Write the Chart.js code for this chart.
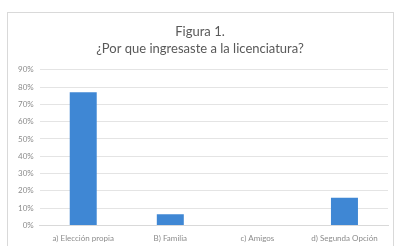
<!DOCTYPE html>
<html>
<head>
<meta charset="utf-8">
<script src="https://cdn.jsdelivr.net/npm/chart.js@4/dist/chart.umd.min.js"></script>
<style>
  html, body { margin: 0; padding: 0; background: #fff; }
  #frame {
    position: absolute; left: 7px; top: 12px; width: 387px; height: 240px;
    border: 1px solid #d9d9d9; box-sizing: border-box;
  }
  #wrap { position: absolute; left: 0; top: 0; width: 385px; height: 238px; }
</style>
</head>
<body>
<div id="frame"><div id="wrap"><canvas id="chart"></canvas></div></div>
<script>
const categories = ["a) Elección propia", "B) Familia", "c) Amigos", "d) Segunda Opción"];
const values = [0.77, 0.065, 0, 0.16];
const titleLines = ["Figura 1.", "¿Por que ingresaste a la licenciatura?"];

const ctx = document.getElementById("chart").getContext("2d");
new Chart(ctx, {
  type: "bar",
  data: {
    labels: categories,
    datasets: [{
      data: values,
      backgroundColor: "#3f87d4",
      categoryPercentage: 0.31,
      barPercentage: 1,
    }],
  },
  options: {
    responsive: true,
    maintainAspectRatio: false,
    animation: false,
    layout: { padding: { left: 4, right: 5, top: 4, bottom: 8 } },
    plugins: {
      legend: { display: false },
      tooltip: { enabled: false },
      title: {
        display: true,
        text: titleLines,
        color: "#595959",
        font: { family: "Lato", size: 13, weight: "normal", lineHeight: 1.3 },
        padding: { top: 6, bottom: 13 },
      },
    },
    scales: {
      y: {
        min: 0,
        max: 0.9,
        ticks: {
          stepSize: 0.1,
          color: "#8c8c8c",
          font: { family: "Lato", size: 8 },
          padding: 6,
          callback: (v) => Math.round(v * 100) + "%",
        },
        grid: { color: "#e4e4e4", drawTicks: false },
        border: { display: false },
      },
      x: {
        ticks: {
          color: "#8c8c8c",
          font: { family: "Lato", size: 8 },
          padding: 0,
          maxRotation: 0,
        },
        grid: { display: false },
        border: { color: "#d9d9d9" },
      },
    },
  },
});
</script>
</body>
</html>
